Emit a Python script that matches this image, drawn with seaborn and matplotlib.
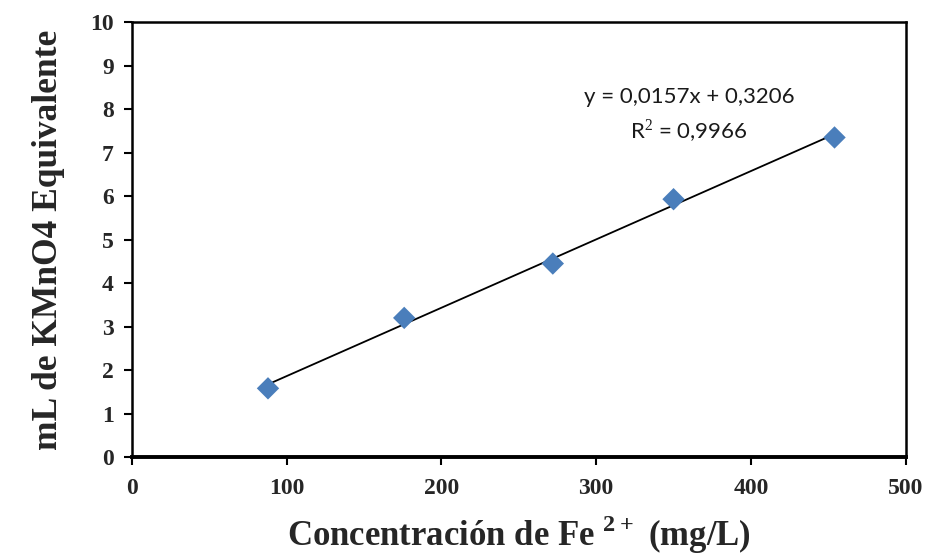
import matplotlib
matplotlib.use("Agg")
import matplotlib.pyplot as plt
import seaborn as sns
import pandas as pd

# Data
conc_fe = [88, 176, 272, 350, 454]          # Concentración de Fe2+ (mg/L)
ml_kmno4 = [1.58, 3.20, 4.45, 5.93, 7.35]   # mL de KMnO4 equivalente
x_ticks = [0, 100, 200, 300, 400, 500]
y_ticks = [0, 1, 2, 3, 4, 5, 6, 7, 8, 9, 10]
eq_text = "y = 0,0157x + 0,3206"
r2_text = "R$^2$ = 0,9966"

df = pd.DataFrame({"x": conc_fe, "y": ml_kmno4})

sns.set_theme(style="white")
plt.rcParams["font.family"] = ["Liberation Serif", "DejaVu Serif"]
plt.rcParams["mathtext.fontset"] = "custom"
plt.rcParams["mathtext.rm"] = "Liberation Serif"
plt.rcParams["mathtext.bf"] = "Liberation Serif:bold"

fig = plt.figure(figsize=(9.28, 5.56), dpi=100)
ax = fig.add_axes([0.142, 0.178, 0.834, 0.782])

sns.regplot(data=df, x="x", y="y", ax=ax, ci=None, truncate=True,
            scatter=False, line_kws=dict(color="black", lw=1.3))
sns.scatterplot(data=df, x="x", y="y", ax=ax, marker="D", s=130,
                color="#4A7EBB", edgecolor="none", zorder=3)

ax.set_xlim(0, 500)
ax.set_ylim(0, 10)
ax.set_xticks(x_ticks)
ax.set_yticks(y_ticks)
ax.set_xticklabels([str(v) for v in x_ticks], fontsize=17, fontweight="bold")
ax.set_yticklabels([str(v) for v in y_ticks], fontsize=17, fontweight="bold")
ax.tick_params(axis="x", direction="out", length=6, width=1.5,
               color="black", pad=9, bottom=True)
ax.tick_params(axis="y", direction="out", length=6, width=1.5,
               color="black", pad=7, left=True)

for side in ["top", "right", "left"]:
    ax.spines[side].set_color("black")
    ax.spines[side].set_linewidth(1.8)
ax.spines["bottom"].set_color("black")
ax.spines["bottom"].set_linewidth(2.8)

ax.set_xlabel("Concentración de Fe $^{\\mathbf{2+}}$ (mg/L)", fontsize=25,
              fontweight="bold", labelpad=10)
ax.set_ylabel("mL de KMnO4 Equivalente", fontsize=25.5, fontweight="bold",
              labelpad=18)

ax.text(360, 8.27, eq_text, ha="center", va="center", fontsize=16,
        family=["Lato", "DejaVu Sans"], color="#1a1a1a")
ax.text(360, 7.5, r2_text, ha="center", va="center", fontsize=16,
        family=["Lato", "DejaVu Sans"], color="#1a1a1a")

fig.savefig("out.png", dpi=100)
